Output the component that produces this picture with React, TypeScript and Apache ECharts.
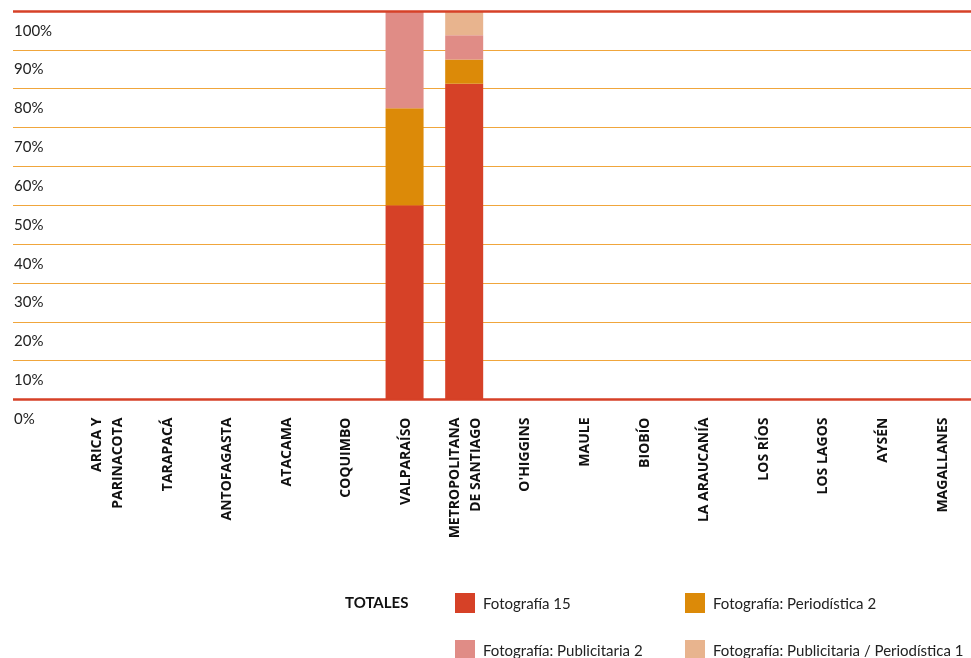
import React, { useEffect, useRef } from "react";
import * as echarts from "echarts";

const regions = [
  "ARICA Y\nPARINACOTA",
  "TARAPACÁ",
  "ANTOFAGASTA",
  "ATACAMA",
  "COQUIMBO",
  "VALPARAÍSO",
  "METROPOLITANA\nDE SANTIAGO",
  "O'HIGGINS",
  "MAULE",
  "BIOBÍO",
  "LA ARAUCANÍA",
  "LOS RÍOS",
  "LOS LAGOS",
  "AYSÉN",
  "MAGALLANES",
];

const seriesNames = [
  "Fotografía",
  "Fotografía: Periodística",
  "Fotografía: Publicitaria",
  "Fotografía: Publicitaria / Periodística",
];

// counts per region
const fotografia = [0, 0, 0, 0, 0, 2, 13, 0, 0, 0, 0, 0, 0, 0, 0];
const periodistica = [0, 0, 0, 0, 0, 1, 1, 0, 0, 0, 0, 0, 0, 0, 0];
const publicitaria = [0, 0, 0, 0, 0, 1, 1, 0, 0, 0, 0, 0, 0, 0, 0];
const pubPeriodistica = [0, 0, 0, 0, 0, 0, 1, 0, 0, 0, 0, 0, 0, 0, 0];

const yTicks = [0, 10, 20, 30, 40, 50, 60, 70, 80, 90, 100];

const colors = ["#d64127", "#dc8a08", "#e08c86", "#e8b48e"];
const RED = "#d64127";
const GRID_ORANGE = "#f0a63c";

export default function App() {
  const ref = useRef<HTMLDivElement>(null);

  useEffect(() => {
    if (!ref.current) return;
    const chart = echarts.init(ref.current, null, { renderer: "svg" });
    const allCounts = [fotografia, periodistica, publicitaria, pubPeriodistica];
    const totals = regions.map((_, i) =>
      allCounts.reduce((s, arr) => s + arr[i], 0)
    );
    const pct = (arr: number[]) => [
      0,
      ...arr.map((v, i) => (totals[i] ? (v / totals[i]) * 100 : 0)),
    ];
    const sums = allCounts.map((arr) => arr.reduce((a, b) => a + b, 0));
    const cats = ["", ...regions];

    const legendPos = [
      { left: 455, top: 593 },
      { left: 685, top: 593 },
      { left: 455, top: 640 },
      { left: 685, top: 640 },
    ];

    const yBase = {
      type: "value",
      min: yTicks[0],
      max: yTicks[yTicks.length - 1],
      interval: 10,
      axisLine: { show: false },
      axisTick: { show: false },
    };

    chart.setOption({
      animation: false,
      grid: [
        { left: 13, right: 0, top: 11, height: 388.5, containLabel: false },
        { left: 17, right: 0, top: 11, height: 388.5, containLabel: false },
      ],
      xAxis: [
        {
          type: "category",
          gridIndex: 0,
          data: cats,
          show: false,
        },
        {
          type: "category",
          gridIndex: 1,
          data: cats,
          axisTick: { show: false },
          axisLine: { show: false },
          splitLine: { show: false },
          axisLabel: {
            interval: 0,
            rotate: 90,
            margin: 18,
            fontFamily: "Open Sans",
            fontWeight: "bold",
            fontSize: 14,
            lineHeight: 21,
            color: "#111",
          },
        },
      ],
      yAxis: [
        {
          ...yBase,
          gridIndex: 0,
          splitLine: { lineStyle: { color: GRID_ORANGE, width: 1 } },
          axisLabel: {
            inside: true,
            margin: 1,
            showMinLabel: true,
            showMaxLabel: true,
            formatter: "{value}%",
            fontFamily: "Lato",
            fontSize: 15,
            color: "#222",
            verticalAlign: "top",
            padding: [11, 0, 0, 0],
          },
        },
        {
          ...yBase,
          gridIndex: 1,
          splitLine: { show: false },
          axisLabel: { show: false },
        },
      ],
      legend: seriesNames.map((n, i) => ({
        data: [n],
        left: legendPos[i].left,
        top: legendPos[i].top,
        padding: 0,
        itemWidth: 20,
        itemHeight: 20,
        icon: "rect",
        selectedMode: false,
        formatter: (name: string) => `${name} ${sums[i]}`,
        textStyle: {
          fontFamily: "Lato",
          fontSize: 15,
          color: "#222",
          padding: [0, 0, 0, 3],
        },
      })),
      graphic: [
        {
          type: "text",
          left: 345,
          top: 594,
          style: {
            text: "TOTALES",
            fontFamily: "Lato",
            fontWeight: "bold",
            fontSize: 15,
            fill: "#111",
          },
        },
      ],
      series: [
        {
          name: "__frame",
          type: "bar",
          xAxisIndex: 0,
          yAxisIndex: 0,
          data: [],
          silent: true,
          markLine: {
            silent: true,
            symbol: ["none", "none"],
            label: { show: false },
            lineStyle: { color: RED, width: 2.5, type: "solid" },
            data: [{ yAxis: 0 }, { yAxis: 100 }],
          },
          z: 5,
        },
        ...seriesNames.map((n, i) => ({
          name: n,
          type: "bar",
          stack: "total",
          xAxisIndex: 1,
          yAxisIndex: 1,
          barWidth: 38,
          data: pct(allCounts[i]),
          itemStyle: { color: colors[i] },
          z: 2,
        })),
      ],
    });
    return () => chart.dispose();
  }, []);

  return (
    <div
      ref={ref}
      style={{ position: "fixed", left: 0, top: 0, width: 971, height: 658 }}
    />
  );
}
